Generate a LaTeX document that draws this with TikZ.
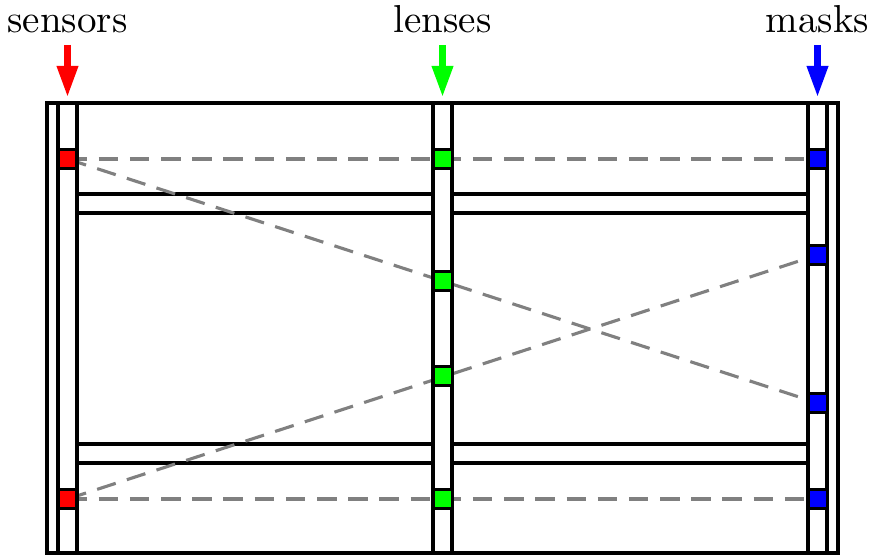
\documentclass[tikz,border=0pt]{standalone}
\usetikzlibrary{arrows.meta}
\pgfdeclarelayer{dash}
\pgfdeclarelayer{front}
\pgfsetlayers{main,dash,front}
\tikzset{
  frame/.style={draw=black, line width=0.8pt},
  sq/.style={draw=black, line width=0.8pt, minimum size=4.9pt, inner sep=0pt, outer sep=0pt},
  ray/.style={draw=gray, line width=0.8pt, dash pattern=on 5pt off 3pt},
  pointer/.style={line width=1.6pt, -{Triangle[length=8pt,width=5.2pt]}},
  lbl/.style={anchor=base, inner sep=0pt}
}
\begin{document}
\begin{tikzpicture}[x=0.2565pt,y=-0.2565pt]
\useasboundingbox (0,0) rectangle (874,556);
% frame
\draw[frame] (47,103) rectangle (838,553);
\draw[frame] (58,103) -- (58,553) (77,103) -- (77,553);
\draw[frame] (433,103) -- (433,553) (452,103) -- (452,553);
\draw[frame] (808,103) -- (808,553) (827,103) -- (827,553);
\draw[frame] (77,194) -- (433,194) (77,213) -- (433,213);
\draw[frame] (452,194) -- (808,194) (452,213) -- (808,213);
\draw[frame] (77,444) -- (433,444) (77,463) -- (433,463);
\draw[frame] (452,444) -- (808,444) (452,463) -- (808,463);
% labels
\node[lbl] (tsen) at (67.5,33) {sensors};
\node[lbl] (tlen) at (442.5,33) {lenses};
\node[lbl] (tmas) at (817.5,33) {masks};
\coordinate (asen) at (67.5,45); \coordinate (bsen) at (67.5,97);
\coordinate (alen) at (442.5,45); \coordinate (blen) at (442.5,97);
\coordinate (amas) at (817.5,45); \coordinate (bmas) at (817.5,97);
\draw[pointer, red] (asen) -- (bsen);
\draw[pointer, green] (alen) -- (blen);
\draw[pointer, blue] (amas) -- (bmas);
% squares
\begin{pgfonlayer}{front}
\node[sq, fill=red] (s1) at (67.5,159) {};
\node[sq, fill=red] (s2) at (67.5,499) {};
\node[sq, fill=green] (l1) at (442.5,159) {};
\node[sq, fill=green] (l2) at (442.5,281) {};
\node[sq, fill=green] (l3) at (442.5,376) {};
\node[sq, fill=green] (l4) at (442.5,499) {};
\node[sq, fill=blue] (m1) at (817.5,159) {};
\node[sq, fill=blue] (m2) at (817.5,255) {};
\node[sq, fill=blue] (m3) at (817.5,403) {};
\node[sq, fill=blue] (m4) at (817.5,499) {};
\end{pgfonlayer}
% rays
\begin{pgfonlayer}{dash}
\draw[ray] (s1.center) -- (l1.center) -- (m1.center);
\draw[ray] (s1.center) -- (m3.center);
\draw[ray] (s2.center) -- (m2.center);
\draw[ray] (s2.center) -- (l4.center) -- (m4.center);
\end{pgfonlayer}
\end{tikzpicture}
\end{document}
